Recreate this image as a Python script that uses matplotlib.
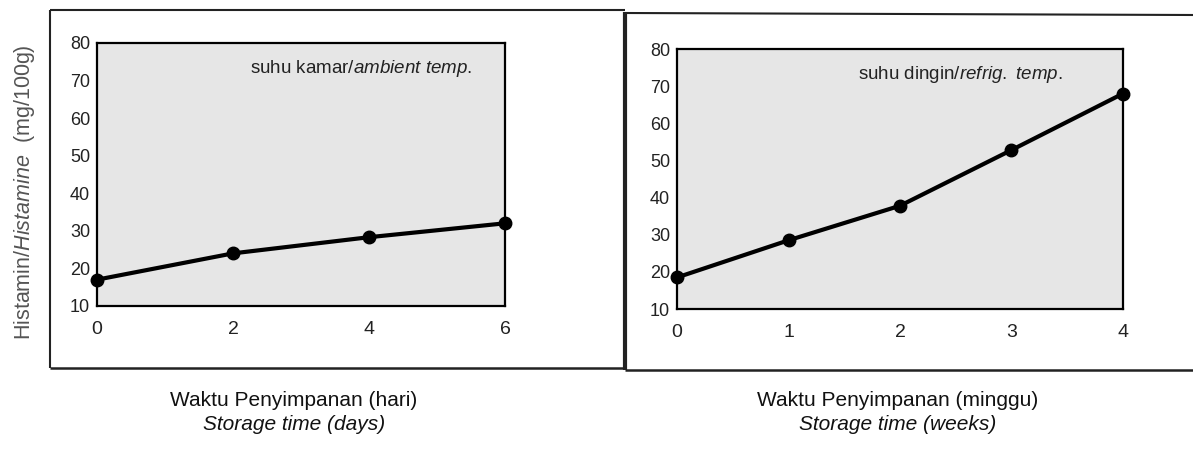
import matplotlib
matplotlib.use("Agg")
import matplotlib.pyplot as plt
from matplotlib.lines import Line2D

# Data
days = [0, 2, 4, 6]
histamine_ambient = [17, 24, 28.3, 32]
weeks = [0, 1, 2, 3, 4]
histamine_refrig = [18.5, 28.5, 37.8, 52.8, 68]
y_ticks = [10, 20, 30, 40, 50, 60, 70, 80]

plt.rcParams["font.family"] = ["Liberation Sans", "DejaVu Sans"]
plt.rcParams["mathtext.fontset"] = "custom"
plt.rcParams["mathtext.rm"] = "Liberation Sans"
plt.rcParams["mathtext.it"] = "Liberation Sans:italic"

fig = plt.figure(figsize=(11.93, 4.49), dpi=100)

ax1 = fig.add_axes([0.0813, 0.3185, 0.342, 0.586])
ax2 = fig.add_axes([0.5675, 0.3118, 0.3738, 0.579])


def style(ax, xs, ys, xmax, label):
    ax.set_facecolor("#e6e6e6")
    ax.plot(xs, ys, color="black", lw=3, marker="o", ms=9, clip_on=False, zorder=5)
    ax.set_xlim(0, xmax)
    ax.set_ylim(10, 80)
    ax.set_yticks(y_ticks)
    ax.set_xticks(range(0, xmax + 1) if xmax == 4 else range(0, xmax + 1, 2))
    ax.tick_params(length=0, labelsize=13, colors="#222222")
    ax.tick_params(axis="x", pad=11, labelsize=14)
    ax.tick_params(axis="y", pad=5)
    for s in ax.spines.values():
        s.set_linewidth(1.6)
    ax.text(label[0], label[1], label[2], fontsize=13.5, color="#222222")


style(ax1, days, histamine_ambient, 6, (2.25, 72, r"suhu kamar/$\mathit{ambient}$ $\mathit{temp.}$"))
style(ax2, weeks, histamine_refrig, 4, (1.62, 72, r"suhu dingin/$\mathit{refrig.}$ $\mathit{temp.}$"))

# Outer frames
def fline(x0, y0, x1, y1, lw):
    fig.add_artist(Line2D([x0 / 1193, x1 / 1193], [1 - y0 / 449, 1 - y1 / 449],
                          color="#222222", lw=lw, solid_capstyle="butt"))

fline(50, 10, 625, 10, 1.5)
fline(50, 368, 625, 368, 1.8)
fline(50, 10, 50, 368, 1.5)
fline(625, 12, 625, 370, 3)
fline(625, 13, 1193, 15, 1.5)
fline(625, 370, 1193, 370, 1.8)

fig.text(25 / 1193, 1 - 192 / 449, r"Histamin/$\mathit{Histamine}$  (mg/100g)",
         rotation=90, ha="center", va="center", fontsize=15.5, color="#555555")

for cx, l1, l2 in [(294, "Waktu Penyimpanan (hari)", "Storage time (days)"),
                   (898, "Waktu Penyimpanan (minggu)", "Storage time (weeks)")]:
    fig.text(cx / 1193, 1 - 400 / 449, l1, ha="center", va="center",
             fontsize=15, color="#111111")
    fig.text(cx / 1193, 1 - 424 / 449, l2, ha="center", va="center",
             fontsize=15, style="italic", color="#111111")

fig.savefig("out.png", dpi=100, facecolor="white")
